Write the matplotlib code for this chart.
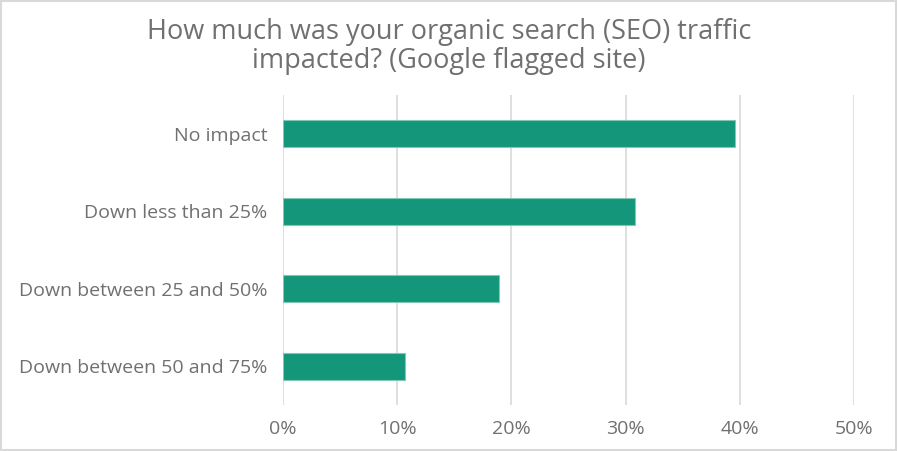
import matplotlib
matplotlib.use('Agg')
import matplotlib.pyplot as plt
from matplotlib.patches import Rectangle
from matplotlib.ticker import FuncFormatter

categories = ['No impact', 'Down less than 25%', 'Down between 25 and 50%', 'Down between 50 and 75%']
shares = [39.6, 30.8, 18.9, 10.7]
ticks = [0, 10, 20, 30, 40, 50]

plt.rcParams['font.family'] = ['Open Sans', 'DejaVu Sans']
text_grey = '#707070'

fig = plt.figure(figsize=(8.98, 4.51), dpi=100)
ax = fig.add_axes([0.315, 0.102, 0.636, 0.687])

pos = list(range(len(categories)))
ax.barh(pos, shares, height=0.35, color='#13967A', edgecolor='#7FC9B5', linewidth=0.8, zorder=3)
ax.set_yticks(pos)
ax.set_yticklabels(categories)
ax.set_ylim(len(categories) - 0.5, -0.5)

ax.set_xlim(0, 50)
ax.set_xticks(ticks)
ax.xaxis.set_major_formatter(FuncFormatter(lambda v, p: f'{v:.0f}%'))
ax.grid(axis='x', color='#D9D9D9', linewidth=1.2, zorder=0)

for s in ax.spines.values():
    s.set_visible(False)
ax.tick_params(length=0, labelsize=14, labelcolor=text_grey)
ax.tick_params(axis='y', pad=11)
ax.tick_params(axis='x', pad=11)

fig.text(0.5, 0.897, 'How much was your organic search (SEO) traffic\nimpacted? (Google flagged site)',
         ha='center', va='center', fontsize=19.5, color=text_grey,
         linespacing=1.02)

fig.patches.append(Rectangle((0.001, 0.002), 0.997, 0.996, transform=fig.transFigure,
                             fill=False, edgecolor='#D9D9D9', linewidth=1.5))

fig.savefig('out.png', dpi=100, facecolor='white')
